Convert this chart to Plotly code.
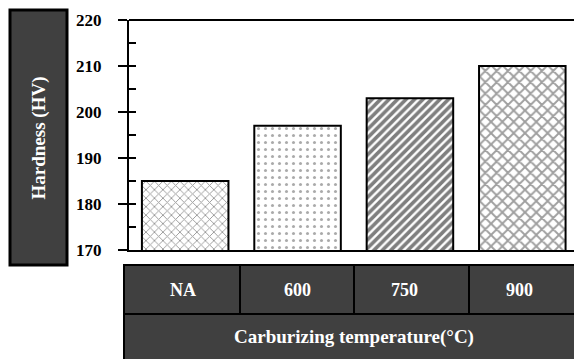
import plotly.graph_objects as go

categories = ["NA", "600", "750", "900"]
hardness = [185, 197, 203, 210]
y_title = "Hardness (HV)"
x_title = "Carburizing temperature(°C)"

W, H = 574, 359
L, R, T, B = 129, 0, 20, 109
PW = W - L - R
PH = H - T - B


def px(x):
    return (x - L) / PW


def py(y):
    return (H - B - y) / PH


patterns = [
    dict(shape="x", size=6, fgcolor="#303030", bgcolor="white", solidity=0.28),
    dict(shape=".", size=7, fgcolor="#555555", bgcolor="white", solidity=0.15),
    dict(shape="/", size=6, fgcolor="black", bgcolor="white", solidity=0.6),
    dict(shape="x", size=8, fgcolor="#404040", bgcolor="white", solidity=0.42),
]

fig = go.Figure()
for i, (c, v) in enumerate(zip(categories, hardness)):
    fig.add_trace(go.Bar(
        x=[i], y=[v], width=0.77,
        marker=dict(color="white", pattern=patterns[i], line=dict(color="black", width=2)),
        showlegend=False, hoverinfo="skip",
    ))
fig.add_trace(go.Scatter(x=[None], y=[None], yaxis="y2", mode="lines", showlegend=False))

font_fam = "Liberation Serif, Times New Roman, serif"

fig.update_layout(
    width=W, height=H,
    margin=dict(l=L, r=R, t=T, b=B),
    paper_bgcolor="white", plot_bgcolor="white",
    xaxis=dict(range=[-0.5, 3.46], showline=True, linecolor="black", linewidth=2,
               showticklabels=False, ticks="", showgrid=False, zeroline=False,
               fixedrange=True),
    yaxis=dict(range=[170, 220], dtick=10, tick0=170, showline=True, linecolor="black",
               linewidth=2, ticks="outside", ticklen=9, tickwidth=2, tickcolor="black",
               showgrid=False, zeroline=False, ticklabelstandoff=13,
               tickfont=dict(family=font_fam, size=17, color="black", weight="bold")),
    yaxis2=dict(range=[170, 220], dtick=5, tick0=170, overlaying="y", side="left",
                ticks="inside", ticklen=7, tickwidth=2, tickcolor="black",
                showticklabels=False, showline=False, showgrid=False, zeroline=False),
)

shapes = []
shapes.append(dict(type="line", xref="paper", yref="paper", x0=0, x1=1, y0=1, y1=1,
                   line=dict(color="black", width=2)))
shapes.append(dict(type="rect", xref="paper", yref="paper",
                   x0=px(10), x1=px(67), y0=py(265), y1=py(10),
                   fillcolor="#404040", line=dict(color="black", width=3)))
col_edges = [124, 240, 354, 469, 584]
for i in range(4):
    shapes.append(dict(type="rect", xref="paper", yref="paper",
                       x0=px(col_edges[i]), x1=px(col_edges[i + 1]),
                       y0=py(314), y1=py(265),
                       fillcolor="#404040", line=dict(color="black", width=2)))
shapes.append(dict(type="rect", xref="paper", yref="paper",
                   x0=px(124), x1=px(584), y0=py(362), y1=py(314),
                   fillcolor="#404040", line=dict(color="black", width=2)))
fig.update_layout(shapes=shapes)

ann = []
ann.append(dict(text=y_title, xref="paper", yref="paper", x=px(38.5), y=py(138),
                xanchor="center", yanchor="middle",
                showarrow=False, textangle=-90,
                font=dict(family=font_fam, size=19, color="white", weight="bold")))
text_centers = [183, 297.5, 404, 519]
for c, xc in zip(categories, text_centers):
    ann.append(dict(text=c, xref="paper", yref="paper", x=px(xc), y=py(289.5),
                    xanchor="center", yanchor="middle", showarrow=False,
                    font=dict(family=font_fam, size=18, color="white", weight="bold")))
ann.append(dict(text=x_title, xref="paper", yref="paper", x=px(354), y=py(337),
                xanchor="center", yanchor="middle", showarrow=False,
                font=dict(family=font_fam, size=19, color="white", weight="bold")))
fig.update_layout(annotations=ann)

fig.write_html("out.html")
